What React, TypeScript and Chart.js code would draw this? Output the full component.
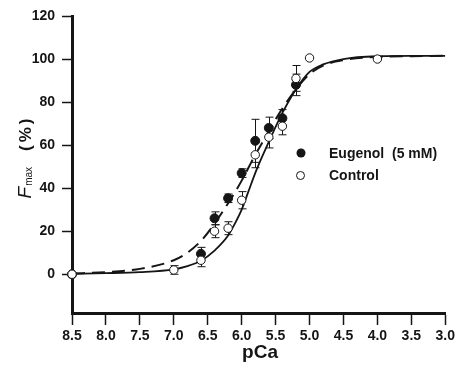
import React, { useEffect, useRef } from "react";
import { Chart, registerables } from "chart.js";

Chart.register(...registerables);

// Measured points (pCa vs % Fmax)
const eugenolPCa = [8.5, 6.6, 6.4, 6.2, 6.0, 5.8, 5.6, 5.4, 5.2];
const eugenolFmax = [0, 9.5, 26, 35.3, 47, 62, 68, 72.5, 88];
const eugenolSem = [0, 3, 3, 2, 2, 10, 5, 4, 5];

const controlPCa = [8.5, 7.0, 6.6, 6.4, 6.2, 6.0, 5.8, 5.6, 5.4, 5.2, 5.0, 4.0];
const controlFmax = [0, 2, 6.5, 20, 21.4, 34.4, 55.5, 63.7, 68.8, 91, 100.5, 100];
const controlSem = [0, 2, 3, 3, 3, 4, 6, 5, 4, 6, 0, 0];

// Fitted curves
const curvePCa = [8.5, 8.0, 7.5, 7.0, 6.8, 6.6, 6.4, 6.2, 6.1, 6.0, 5.9, 5.8, 5.7, 5.6, 5.5, 5.4, 5.2, 5.0, 4.8, 4.5, 4.0, 3.5, 3.0];
const controlCurve = [0.2, 0.5, 1.0, 2.3, 3.8, 6.3, 11, 18, 23.5, 30, 38.5, 47, 54.5, 61.5, 68.5, 75, 86, 94, 97.5, 100, 101.3, 101.5, 101.5];
const eugenolCurve = [0.3, 1, 2.5, 6.5, 10, 15.5, 23.5, 33, 38, 43.5, 49.5, 55.5, 61, 66.5, 72, 77, 86, 93, 97, 99.5, 101, 101.3, 101.5];

const xTicks = [8.5, 8.0, 7.5, 7.0, 6.5, 6.0, 5.5, 5.0, 4.5, 4.0, 3.5, 3.0];
const yTicks = [0, 20, 40, 60, 80, 100, 120];

const legendLabels = ["Eugenol  (5 mM)", "Control"];

const toXY = (xs: number[], ys: number[]) => xs.map((x, i) => ({ x, y: ys[i] }));

const FONT = "'Liberation Sans', Arial, sans-serif";
const INK = "#151515";

const errorBars = {
  id: "errorBars",
  beforeDatasetsDraw(chart: any) {
    const { ctx, scales } = chart;
    const xs = scales.x;
    const ys = scales.y;
    ctx.save();
    ctx.strokeStyle = INK;
    ctx.lineWidth = 1;
    const groups: [number[], number[], number[]][] = [
      [eugenolPCa, eugenolFmax, eugenolSem],
      [controlPCa, controlFmax, controlSem],
    ];
    for (const [px, vals, errs] of groups) {
      px.forEach((p, i) => {
        const e = errs[i];
        if (!e) return;
        const xp = Math.round(xs.getPixelForValue(p)) + 0.5;
        const y1 = ys.getPixelForValue(vals[i] + e);
        const y2 = ys.getPixelForValue(vals[i] - e);
        ctx.beginPath();
        ctx.moveTo(xp, y1);
        ctx.lineTo(xp, y2);
        ctx.moveTo(xp - 4, y1);
        ctx.lineTo(xp + 4, y1);
        ctx.moveTo(xp - 4, y2);
        ctx.lineTo(xp + 4, y2);
        ctx.stroke();
      });
    }
    ctx.restore();
  },
};

const annotations = {
  id: "annotations",
  afterDraw(chart: any) {
    const { ctx } = chart;
    ctx.save();
    // Legend
    ctx.fillStyle = INK;
    ctx.strokeStyle = INK;
    ctx.beginPath();
    ctx.arc(301, 153, 4.5, 0, Math.PI * 2);
    ctx.fill();
    ctx.beginPath();
    ctx.lineWidth = 1;
    ctx.arc(300.5, 175.5, 4, 0, Math.PI * 2);
    ctx.fillStyle = "#fff";
    ctx.fill();
    ctx.stroke();
    ctx.fillStyle = INK;
    ctx.font = `bold 14px ${FONT}`;
    ctx.textBaseline = "middle";
    ctx.textAlign = "left";
    ctx.fillText(legendLabels[0], 329, 154);
    ctx.fillText(legendLabels[1], 329, 176);

    // X title
    ctx.font = `bold 19px ${FONT}`;
    ctx.textAlign = "center";
    ctx.textBaseline = "alphabetic";
    ctx.fillText("pCa", 260, 358);

    // Y title (rotated): F_max (%)
    ctx.translate(31, 157);
    ctx.rotate(-Math.PI / 2);
    ctx.textAlign = "left";
    const fFont = `italic 19px ${FONT}`;
    const subFont = `10px ${FONT}`;
    const pctFont = `bold 17px ${FONT}`;
    ctx.font = fFont;
    const wF = ctx.measureText("F").width;
    ctx.font = subFont;
    const wSub = ctx.measureText("max").width;
    (ctx as any).letterSpacing = "3px";
    ctx.font = pctFont;
    const wPct = ctx.measureText("(%)").width;
    (ctx as any).letterSpacing = "0px";
    const gap = 16;
    const total = wF + 1 + wSub + gap + wPct;
    let cx = -total / 2;
    ctx.font = fFont;
    ctx.fillText("F", cx, 0);
    cx += wF + 1;
    ctx.font = subFont;
    ctx.fillText("max", cx, 1);
    cx += wSub + gap;
    (ctx as any).letterSpacing = "3px";
    ctx.font = pctFont;
    ctx.fillText("(%)", cx, 0);
    ctx.restore();
  },
};

export default function App() {
  const ref = useRef<HTMLCanvasElement>(null);
  useEffect(() => {
    document.body.style.margin = "0";
    const canvas = ref.current!;
    const chart = new Chart(canvas, {
      type: "scatter",
      data: {
        datasets: [
          {
            label: "Control fit",
            data: toXY(curvePCa, controlCurve),
            showLine: true,
            borderColor: INK,
            borderWidth: 1.8,
            pointRadius: 0,
            cubicInterpolationMode: "monotone",
            order: 3,
          } as any,
          {
            label: "Eugenol fit",
            data: toXY(curvePCa, eugenolCurve),
            showLine: true,
            borderColor: INK,
            borderWidth: 2,
            borderDash: [13, 7],
            pointRadius: 0,
            cubicInterpolationMode: "monotone",
            order: 2,
          } as any,
          {
            label: legendLabels[0],
            data: toXY(eugenolPCa, eugenolFmax),
            pointRadius: 4.5,
            pointBackgroundColor: INK,
            pointBorderColor: INK,
            pointBorderWidth: 1,
            clip: false,
            order: 1,
          } as any,
          {
            label: legendLabels[1],
            data: toXY(controlPCa, controlFmax),
            pointRadius: 4.2,
            pointBackgroundColor: "#fff",
            pointBorderColor: INK,
            pointBorderWidth: 1,
            clip: false,
            order: 0,
          } as any,
        ],
      },
      options: {
        responsive: false,
        animation: false,
        devicePixelRatio: 1,
        layout: { padding: { top: 16, right: 11, left: 0, bottom: 0 } },
        plugins: { legend: { display: false }, tooltip: { enabled: false }, title: { display: false } },
        scales: {
          x: {
            type: "linear",
            reverse: true,
            min: 3,
            max: 8.5,
            afterBuildTicks: (s: any) => {
              s.ticks = xTicks.map((v) => ({ value: v }));
            },
            afterFit: (s: any) => {
              s.height = 62;
            },
            ticks: {
              callback: (v: any) => Number(v).toFixed(1),
              font: { family: FONT, size: 14, weight: "bold" },
              color: INK,
              padding: 3,
              maxRotation: 0,
              autoSkip: false,
            },
            grid: {
              drawOnChartArea: false,
              drawTicks: true,
              tickLength: 12,
              tickWidth: 1.5,
              tickColor: INK,
            },
            border: { display: true, width: 3, color: INK },
          },
          y: {
            type: "linear",
            min: -18,
            max: 120,
            afterBuildTicks: (s: any) => {
              s.ticks = yTicks.map((v) => ({ value: v }));
            },
            afterFit: (s: any) => {
              s.width = 72;
            },
            ticks: {
              font: { family: FONT, size: 14, weight: "bold" },
              color: INK,
              padding: 7,
              autoSkip: false,
            },
            grid: {
              drawOnChartArea: false,
              drawTicks: true,
              tickLength: 10,
              tickWidth: 1.5,
              tickColor: INK,
            },
            border: { display: true, width: 3, color: INK },
          },
        },
      },
      plugins: [errorBars, annotations],
    });
    return () => chart.destroy();
  }, []);
  return (
    <div style={{ width: 458, height: 375 }}>
      <canvas ref={ref} width={458} height={375} style={{ display: "block" }} />
    </div>
  );
}
